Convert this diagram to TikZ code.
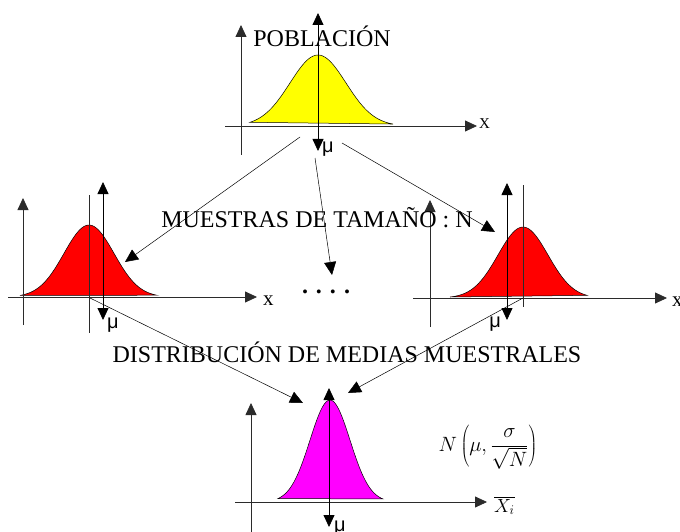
\RequirePackage{fix-cm}
\documentclass[tikz,border=0pt]{standalone}
\usepackage{fontspec}
\setmainfont{Liberation Serif}
\newfontfamily\musans{Liberation Sans}
\usepackage{xcolor}
\definecolor{cPob}{HTML}{FFFF00}
\definecolor{cMuestra}{HTML}{FF0000}
\definecolor{cMedia}{HTML}{FF00FF}
\definecolor{cAxis}{HTML}{2B2B2B}
\usetikzlibrary{arrows.meta}
\tikzset{
  axis-line/.style={-{Triangle[length=12pt,width=11pt]},line width=0.8pt,draw=cAxis},
  axis-plain/.style={line width=0.8pt,draw=cAxis},
  mu-arrow/.style={{Triangle[length=12pt,width=11pt]}-{Triangle[length=12pt,width=11pt]},
    line width=0.8pt,draw=black},
  link/.style={-{Triangle[length=13pt,width=12pt]},line width=0.5pt,draw=black},
  bell/.style={draw=black,line width=0.5pt},
  label-big/.style={font=\fontsize{24}{28}\selectfont,inner sep=0pt},
  label-mu/.style={font=\musans\fontsize{20}{24}\selectfont,inner sep=0pt},
  label-axis/.style={font=\fontsize{21}{24}\selectfont,inner sep=0pt},
}

\begin{document}
\begin{tikzpicture}[x=1pt,y=-1pt]
  \useasboundingbox (0,0) rectangle (680,532);
  % campanas: centro/base/altura/sigma/desde/hasta/color
  \foreach \c/\b/\h/\s/\lo/\hi/\col in {318/126/71/28/250/393/cPob,
      89/297/72/25/20/157/cMuestra, 523/298/71/25/450/587/cMuestra,
      330/502/102/20/278/383/cMedia}{
    \draw[bell,fill=\col] plot[domain=\lo:\hi,samples=60,smooth]
      (\x,{\b-\h*exp(-0.5*((\x-\c)/\s)*((\x-\c)/\s))}) -- cycle;
  }

  % poblacion
  \draw[axis-line] (241,155) -- (241,25);
  \draw[axis-line] (225,126) -- (477,126);
  \draw[mu-arrow] (318,13) -- (318,151);
  \node[label-big,anchor=base] (pob) at (322,47) {POBLACIÓN};
  \node[font=\fontsize{15}{18}\selectfont,inner sep=0pt,anchor=base west] (pob-x) at (479,129) {X};
  \node[label-mu,anchor=base west] (pob-mu) at (322,153) {μ};

  % muestras
  \draw[axis-line] (23,325) -- (23,198);
  \draw[axis-line] (8,297) -- (257,297);
  \draw[axis-plain] (89,195) -- (89,333);
  \draw[mu-arrow] (103,182) -- (103,320);
  \node[label-axis,anchor=base west] (m1-x) at (263,305) {x};
  \node[label-mu,anchor=base west] (m1-mu) at (107,328) {μ};

  \draw[axis-line] (430,327) -- (430,200);
  \draw[axis-line] (413,298) -- (667,298);
  \draw[axis-plain] (523,185) -- (523,307);
  \draw[mu-arrow] (507,183) -- (507,320);
  \node[label-axis,anchor=base west] (m2-x) at (672,306) {x};
  \node[label-mu,anchor=base east] (m2-mu) at (501,327) {μ};

  \node[label-big,anchor=base] (muestras) at (317,227) {MUESTRAS DE TAMAÑO : N};
  \node[label-big,anchor=base] (dots) at (326,293) {\textbf{. . . .}};

  % medias
  \draw[axis-line] (251,532) -- (251,403);
  \draw[axis-line] (235,502) -- (487,502);
  \draw[mu-arrow] (329,388) -- (329,527);
  \node[label-mu,anchor=base west] (med-mu) at (334,531) {μ};
  \node[font=\fontsize{19}{22}\selectfont,inner sep=0pt,anchor=base west] (med-x) at (494,512) {$\overline{X_i}$};
  \node[font=\fontsize{20.7}{24}\selectfont,inner sep=0pt] (normal) at (488,447)
    {$\displaystyle N\left(\mu,\frac{\sigma}{\sqrt{N}}\right)$};
  \node[label-big,anchor=base] (distr) at (347,362) {DISTRIBUCIÓN DE MEDIAS MUESTRALES};

  % flechas
  \coordinate (pob-l) at (300,137);
  \coordinate (pob-m) at (315,158);
  \coordinate (pob-r) at (342,143);
  \coordinate (m1-in) at (125,262);
  \coordinate (dots-in) at (332,275);
  \coordinate (m2-in) at (495,232);
  \coordinate (m1-out) at (90,298);
  \coordinate (m2-out) at (523,298);
  \coordinate (med-l) at (303,403);
  \coordinate (med-r) at (348,393);
  \draw[link] (pob-l) -- (m1-in);
  \draw[link] (pob-m) -- (dots-in);
  \draw[link] (pob-r) -- (m2-in);
  \draw[link] (m1-out) -- (med-l);
  \draw[link] (m2-out) -- (med-r);
\end{tikzpicture}
\end{document}
